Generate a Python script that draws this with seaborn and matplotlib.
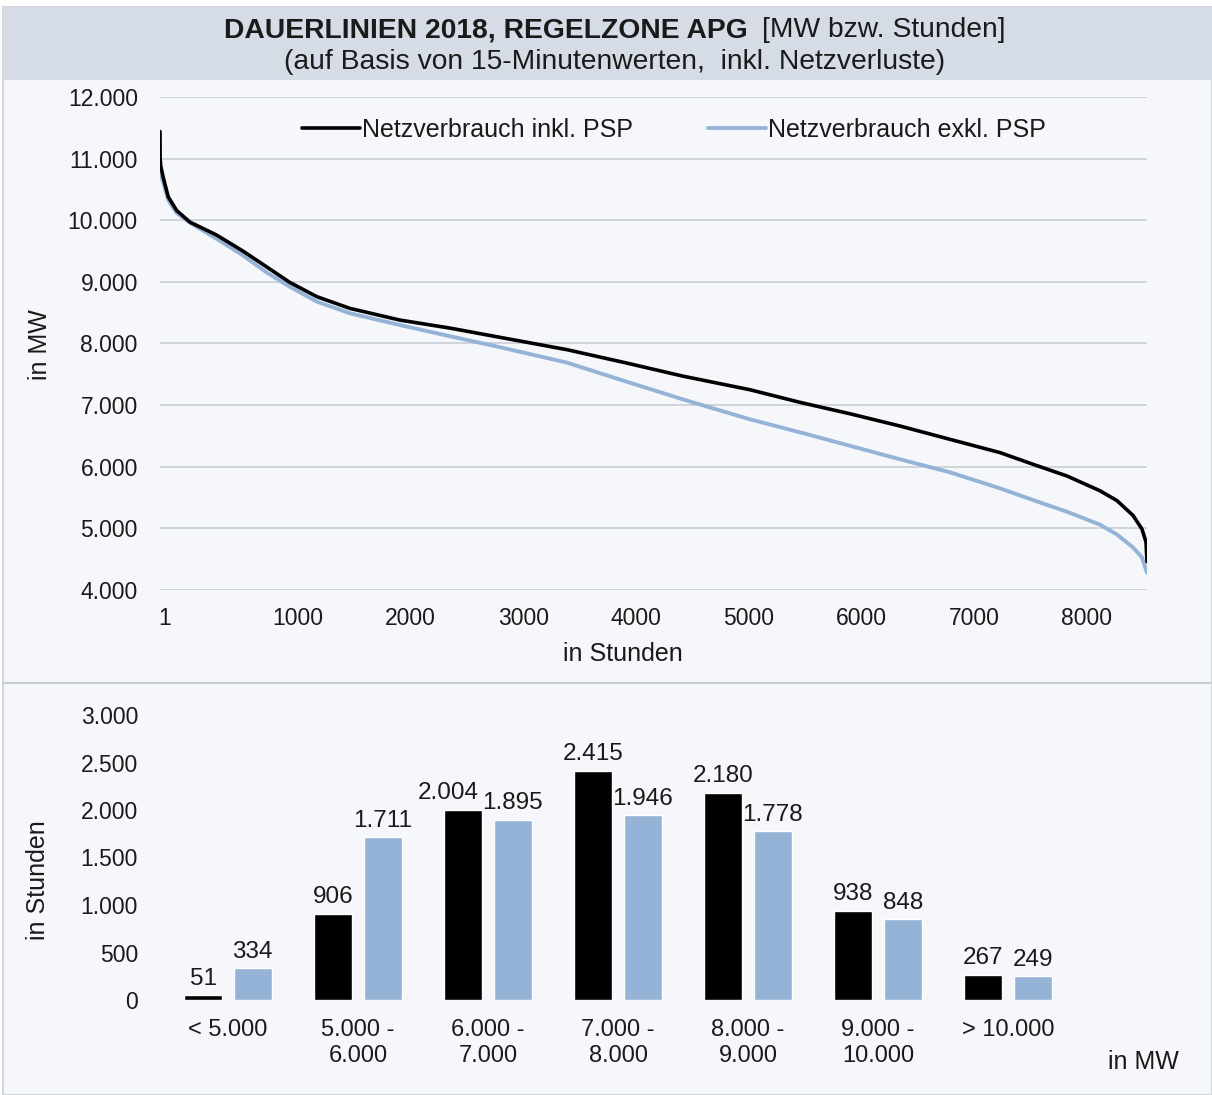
import numpy as np
import pandas as pd
import matplotlib
matplotlib.use("Agg")
import matplotlib.pyplot as plt
from matplotlib.patches import Rectangle
from matplotlib.lines import Line2D
from matplotlib.ticker import FuncFormatter, FixedLocator
import seaborn as sns

# ---- data -----------------------------------------------------------------
series_names = ["Netzverbrauch inkl. PSP", "Netzverbrauch exkl. PSP"]

# load duration curve, sorted load in MW against hour of the year
hours_inkl = [1, 2, 8, 29, 74, 148, 266, 503, 737, 950, 1154, 1393, 1686, 2130,
              2574, 3018, 3612, 4125, 4642, 5236, 5680, 6124, 6570, 7011, 7455,
              7748, 8050, 8343, 8494, 8636, 8715, 8751, 8760]
load_inkl = [11440, 11000, 10880, 10700, 10380, 10160, 9970, 9760, 9500, 9240,
             8990, 8760, 8570, 8380, 8250, 8100, 7900, 7690, 7470, 7250, 7045,
             6860, 6660, 6445, 6230, 6040, 5850, 5610, 5450, 5210, 4990, 4780,
             4460]

hours_exkl = [1, 8, 29, 74, 148, 266, 503, 737, 950, 1154, 1393, 1686, 2130,
              2574, 3018, 3612, 4125, 4642, 5236, 5680, 6124, 6570, 7011, 7455,
              7748, 8050, 8343, 8494, 8636, 8715, 8760]
load_exkl = [10820, 10750, 10620, 10330, 10120, 9960, 9700, 9430, 9150, 8920,
             8680, 8490, 8300, 8118, 7940, 7690, 7390, 7093, 6770, 6559, 6340,
             6120, 5910, 5650, 5460, 5270, 5060, 4900, 4690, 4530, 4280]

# hours per load band
bands = ["< 5.000", "5.000 -\n6.000", "6.000 -\n7.000", "7.000 -\n8.000",
         "8.000 -\n9.000", "9.000 -\n10.000", "> 10.000"]
band_hours_inkl = [51, 906, 2004, 2415, 2180, 938, 267]
band_hours_exkl = [334, 1711, 1895, 1946, 1778, 848, 249]

hour_tick_labels = ["1", "1000", "2000", "3000", "4000", "5000", "6000",
                    "7000", "8000"]
hour_tick_pos = [44, 1225, 2225, 3225, 4225, 5225, 6225, 7225, 8225]

# ---- style ----------------------------------------------------------------
sns.set_theme(style="white")
plt.rcParams["font.family"] = ["Liberation Sans", "DejaVu Sans"]

BLACK = "#000000"
BLUE = "#95B3D7"
BG = "#F5F7FA"
BAND = "#D6DCE5"
GRID = "#C9CDD5"
TXT = "#1A1A1A"
FS_TICK = 16.5
FS_AX = 18
FS_LEG = 18
FS_BAR = 17.5
FS_CAT = 17
FS_TITLE = 20.3

W, H = 1212, 1095
DPI = 100
fig = plt.figure(figsize=(W / DPI, H / DPI), dpi=DPI, facecolor="white")

# panel background, title band, separator
fig.patches.append(Rectangle((3 / W, 0), 1 - 3 / W, 1 - 7 / H, transform=fig.transFigure,
                             facecolor=BG, edgecolor=GRID, lw=1.2, zorder=-5))
fig.patches.append(Rectangle((3 / W, 1 - 80 / H), 1 - 3 / W, 73 / H, transform=fig.transFigure,
                             facecolor=BAND, edgecolor="none", zorder=-4))
fig.lines.append(Line2D([3 / W, 1], [1 - 683 / H, 1 - 683 / H], transform=fig.transFigure,
                        color=GRID, lw=1.5, zorder=-3))

fig.text(748 / W, 1 - 30 / H, "DAUERLINIEN 2018, REGELZONE APG", ha="right", va="center",
         fontsize=FS_TITLE, fontweight="bold", color=TXT)
fig.text(762 / W, 1 - 30 / H, "[MW bzw. Stunden]", ha="left", va="center",
         fontsize=FS_TITLE, color=TXT)
fig.text(615 / W, 1 - 62 / H, "(auf Basis von 15-Minutenwerten,  inkl. Netzverluste)",
         ha="center", va="center", fontsize=FS_TITLE, color=TXT)

de_fmt = FuncFormatter(lambda v, p: f"{v:,.0f}".replace(",", "."))

# ---- duration curves --------------------------------------------------------
ax1 = fig.add_axes([160 / W, 1 - 590 / H, 987 / W, 493 / H])
ax1.set_facecolor("none")
sns.lineplot(x=hours_inkl, y=load_inkl, ax=ax1, color=BLACK, lw=2.6,
             label=series_names[0], zorder=3)
sns.lineplot(x=hours_exkl, y=load_exkl, ax=ax1, color=BLUE, lw=2.8,
             label=series_names[1], zorder=2)
for ln in ax1.lines:
    ln.set_solid_joinstyle("round")
ax1.set_xlim(1, 8760)
ax1.set_ylim(4000, 12000)
ax1.set_yticks(np.arange(4000, 12001, 1000))
ax1.yaxis.set_major_formatter(de_fmt)
ax1.xaxis.set_major_locator(FixedLocator(hour_tick_pos))
ax1.set_xticklabels(hour_tick_labels)
ax1.grid(axis="y", color=GRID, lw=1.2)
ax1.grid(axis="x", visible=False)
for s in ax1.spines.values():
    s.set_visible(False)
ax1.tick_params(axis="both", length=0, labelsize=FS_TICK, colors=TXT)
ax1.tick_params(axis="y", pad=16)
ax1.tick_params(axis="x", pad=12)
ax1.set_xlabel("")
ax1.set_ylabel("")
leg = ax1.legend(loc="center", bbox_to_anchor=(0.521, 0.933), ncol=2, frameon=False,
                 fontsize=FS_LEG, handlelength=2.3, handletextpad=0.1, columnspacing=3.0)
for t in leg.get_texts():
    t.set_color(TXT)
fig.text(40 / W, 1 - 345 / H, "in MW", rotation=90, ha="center", va="center",
         fontsize=FS_AX, color=TXT)
fig.text(623 / W, 1 - 654 / H, "in Stunden", ha="center", va="center",
         fontsize=FS_AX, color=TXT)

# ---- hours per load band ----------------------------------------------------
df = pd.DataFrame({
    "band": bands * 2,
    "series": [series_names[0]] * len(bands) + [series_names[1]] * len(bands),
    "hours": band_hours_inkl + band_hours_exkl,
})
ax2 = fig.add_axes([163 / W, 1 - 1000 / H, 910 / W, 285 / H])
ax2.set_facecolor("none")
sns.barplot(data=df, x="band", y="hours", hue="series", hue_order=series_names,
            palette=[BLACK, BLUE], width=0.76, gap=0.23, saturation=1,
            ax=ax2, legend=False)
ax2.set_xlim(-0.5, 6.5)
ax2.set_ylim(0, 3000)
ax2.set_yticks(np.arange(0, 3001, 500))
ax2.yaxis.set_major_formatter(de_fmt)
for s in ax2.spines.values():
    s.set_visible(False)
ax2.grid(False)
ax2.tick_params(axis="both", length=0, colors=TXT)
ax2.tick_params(axis="y", pad=18, labelsize=FS_TICK)
ax2.tick_params(axis="x", pad=14, labelsize=FS_CAT)
ax2.set_xlabel("")
ax2.set_ylabel("")
label_sets = []
for cont in ax2.containers:
    label_sets.append(ax2.bar_label(
        cont, labels=[f"{v:,.0f}".replace(",", ".") for v in cont.datavalues],
        padding=4, fontsize=FS_BAR, color=TXT))

# nudge the left label of a pair when the two value labels would collide
fig.canvas.draw()
renderer = fig.canvas.get_renderer()
for left, right in zip(label_sets[0], label_sets[1]):
    el = left.get_window_extent(renderer)
    er = right.get_window_extent(renderer)
    vertical = el.y0 < er.y1 and er.y0 < el.y1
    overlap = el.x1 - er.x0 + 4
    if vertical and overlap > 0:
        dx, dy = left.xyann
        left.xyann = (dx - overlap * 72 / DPI, dy)

fig.text(38 / W, 1 - 880 / H, "in Stunden", rotation=90, ha="center", va="center",
         fontsize=FS_AX, color=TXT)
fig.text(1143 / W, 1 - 1062 / H, "in MW", ha="center", va="center",
         fontsize=FS_AX, color=TXT)

fig.savefig("out.png", dpi=DPI, facecolor="white")
